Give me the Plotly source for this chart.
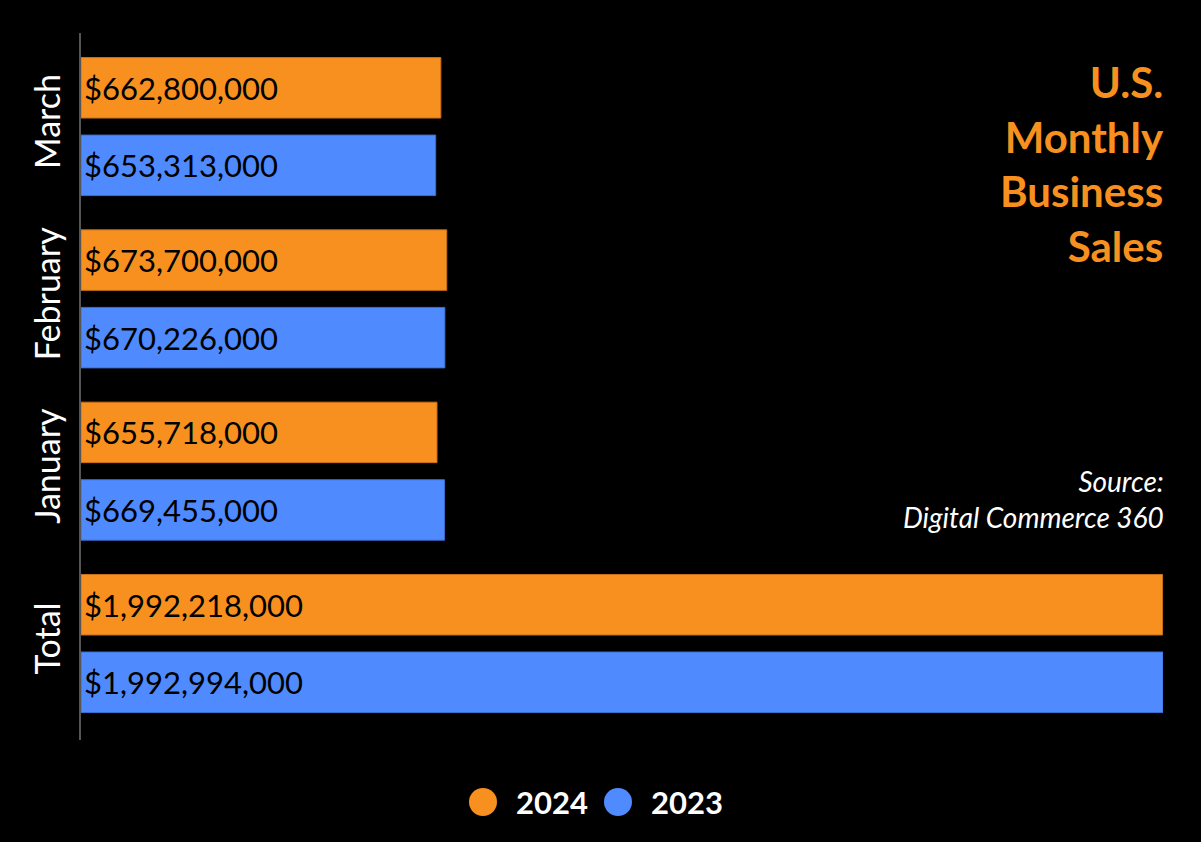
import plotly.graph_objects as go

categories = ["Total", "January", "February", "March"]
sales_2024 = [1992218000, 655718000, 673700000, 662800000]
sales_2023 = [1992994000, 669455000, 670226000, 653313000]
series_names = ["2024", "2023"]

ORANGE = "#F7901E"
BLUE = "#4F8BFF"
FONT = "Lato"

W, H = 1201, 842
ML, MR, MT, MB = 81, 38, 33, 102
PW = W - ML - MR
PH = H - MT - MB


def px_x(x):
    return (x - ML) / PW


def px_y(y):
    return (H - MB - y) / PH


def fmt(v):
    return "${:,}".format(v)


fig = go.Figure()
fig.add_trace(go.Bar(
    y=categories, x=sales_2023, orientation="h", name=series_names[1],
    marker=dict(color=BLUE, line=dict(color="#3a6fd0", width=1)),
    text=[fmt(v) for v in sales_2023], textposition="inside",
    insidetextanchor="start", textfont=dict(family=FONT, size=31, color="#000000"),
    showlegend=False, hoverinfo="skip",
))
fig.add_trace(go.Bar(
    y=categories, x=sales_2024, orientation="h", name=series_names[0],
    marker=dict(color=ORANGE, line=dict(color="#c9701a", width=1)),
    text=[fmt(v) for v in sales_2024], textposition="inside",
    insidetextanchor="start", textfont=dict(family=FONT, size=31, color="#000000"),
    showlegend=False, hoverinfo="skip",
))

annotations = [
    dict(text="U.S.<br>Monthly<br>Business<br>Sales", xref="paper", yref="paper",
         x=1.0, y=px_y(55), xanchor="right", yanchor="top", align="right", xshift=3,
         showarrow=False, font=dict(family=FONT, size=42, color=ORANGE, weight="bold")),
    dict(text="<i>Source:</i><br><i>Digital Commerce 360</i>", xref="paper", yref="paper",
         x=1.0, y=px_y(462), xanchor="right", yanchor="top", align="right", xshift=3,
         showarrow=False, font=dict(family=FONT, size=28, color="#ffffff")),
]
shapes = []
legend_items = [(series_names[0], ORANGE, 483, 516), (series_names[1], BLUE, 618, 651)]
for name, col, cx, tx in legend_items:
    shapes.append(dict(type="circle", xref="paper", yref="paper",
                       xsizemode="pixel", ysizemode="pixel",
                       xanchor=px_x(cx), yanchor=px_y(802),
                       x0=-14, x1=14, y0=-14, y1=14,
                       fillcolor=col, line=dict(width=0)))
    annotations.append(dict(text=name, xref="paper", yref="paper",
                            x=px_x(tx - 2), y=px_y(802), xanchor="left", yanchor="middle",
                            showarrow=False,
                            font=dict(family=FONT, size=31, color="#ffffff", weight="bold")))

fig.update_layout(
    width=W, height=H,
    margin=dict(l=ML, r=MR, t=MT, b=MB),
    paper_bgcolor="#000000", plot_bgcolor="#000000",
    barmode="group", bargap=0.1, bargroupgap=0.22,
    font=dict(family=FONT, color="#ffffff"),
    xaxis=dict(range=[0, max(sales_2023)], visible=False, showgrid=False, zeroline=False),
    yaxis=dict(categoryorder="array", categoryarray=categories, range=[-0.56, 3.543],
               showline=True, linecolor="#555555", linewidth=2, showgrid=False,
               tickangle=-90, ticks="", ticklabelstandoff=5,
               tickfont=dict(family=FONT, size=34, color="#ffffff")),
    annotations=annotations, shapes=shapes,
    showlegend=False,
)

fig.write_html(
    "out.html",
    config={"displayModeBar": False},
    post_script="document.body.style.margin='0';document.body.style.background='#000';",
)
